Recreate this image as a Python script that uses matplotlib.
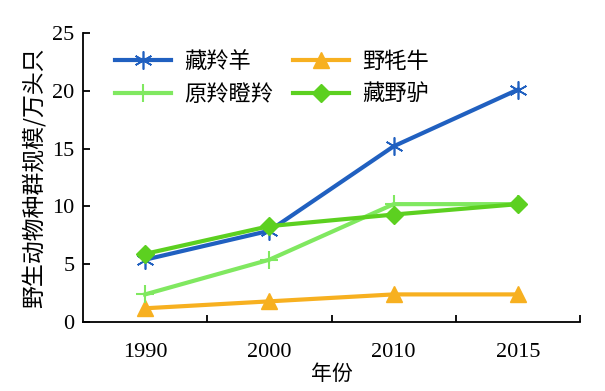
import matplotlib.pyplot as plt

plt.rcParams['font.family'] = ['Liberation Serif', 'Noto Sans CJK SC']

years = ["1990", "2000", "2010", "2015"]
tibetan_antelope = [5.4, 7.9, 15.2, 20.1]
wild_yak = [1.2, 1.8, 2.4, 2.4]
gazelle = [2.4, 5.4, 10.2, 10.2]
kiang = [5.9, 8.3, 9.3, 10.2]

fig = plt.figure(figsize=(6.05, 3.91), dpi=100)
ax = fig.add_axes([0.137, 0.176, 0.822, 0.740])

x = range(len(years))
l1, = ax.plot(x, tibetan_antelope, color="#2060c0", lw=3, marker=(6, 2, 0), ms=13, mew=1.2, label="藏羚羊")
l2, = ax.plot(x, wild_yak, color="#f7b020", lw=3, marker="^", ms=12, label="野牦牛")
l3, = ax.plot(x, gazelle, color="#80e860", lw=3, marker="+", ms=13, mew=1.5, label="原羚瞪羚")
l4, = ax.plot(x, kiang, color="#5cd020", lw=3, marker="D", ms=9, label="藏野驴")

ax.set_xlim(-0.5, 3.5)
ax.set_ylim(0, 25)
ax.set_yticks([0, 5, 10, 15, 20, 25])
ax.set_xticks([0.5, 1.5, 2.5, 3.5])
ax.set_xticklabels([])
ax.set_xticks(list(x), minor=True)
ax.set_xticklabels(years, minor=True)
ax.tick_params(axis="x", which="major", direction="in", length=5, width=1.3)
ax.tick_params(axis="x", which="minor", length=0, pad=15, labelsize=16)
ax.tick_params(axis="y", direction="in", length=5, width=1.3, labelsize=16, pad=6)

for s in ["top", "right"]:
    ax.spines[s].set_visible(False)
for s in ["left", "bottom"]:
    ax.spines[s].set_linewidth(1.3)

ax.set_xlabel("年份", fontsize=15, labelpad=1, family=["Noto Sans CJK SC"])
ax.set_ylabel("野生动物种群规模/万头只", fontsize=16.5, labelpad=4, family=["Noto Sans CJK SC"])

leg = ax.legend([l1, l3, l2, l4], ["藏羚羊", "原羚瞪羚", "野牦牛", "藏野驴"],
                ncol=2, loc="upper left", bbox_to_anchor=(0.025, 1.01), frameon=False,
                prop={"family": "Noto Sans CJK SC", "size": 16}, handlelength=2.5,
                handletextpad=0.6, columnspacing=0.9, labelspacing=0.43)

plt.savefig("out.png")
